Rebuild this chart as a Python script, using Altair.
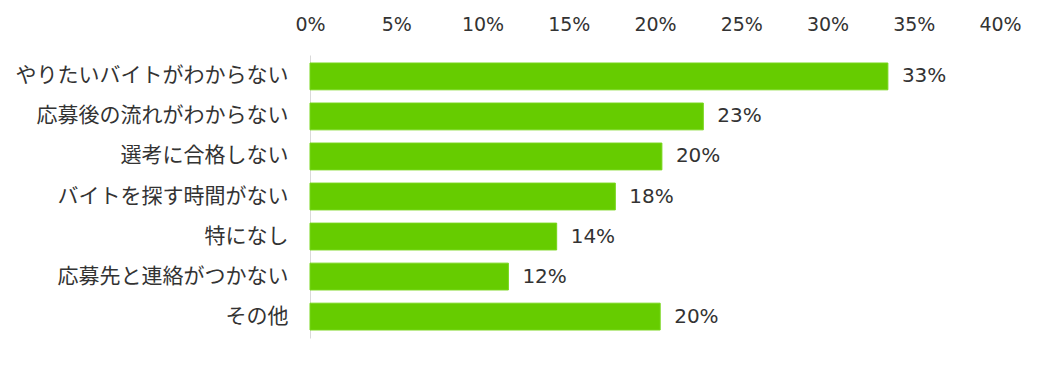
import altair as alt
import pandas as pd

categories = [
    "やりたいバイトがわからない",
    "応募後の流れがわからない",
    "選考に合格しない",
    "バイトを探す時間がない",
    "特になし",
    "応募先と連絡がつかない",
    "その他",
]
values = [33.5, 22.8, 20.4, 17.7, 14.3, 11.5, 20.3]
labels = ["33%", "23%", "20%", "18%", "14%", "12%", "20%"]
tick_values = [0, 5, 10, 15, 20, 25, 30, 35, 40]

df = pd.DataFrame({"cat": categories, "val": values, "lab": labels})

JP_FONT = "Noto Sans CJK JP"
NUM_FONT = "DejaVu Sans"
TEXT = "#333333"

x = alt.X(
    "val:Q",
    scale=alt.Scale(domain=[0, 40], nice=False, zero=True),
    axis=alt.Axis(
        orient="top", values=tick_values, labelExpr="datum.value + '%'",
        domain=False, ticks=False, grid=False, title=None,
        labelFontSize=19, labelFont=NUM_FONT, labelColor=TEXT,
        labelBaseline="middle", labelPadding=31,
        labelFlush=False, labelOverlap=False, labelAlign="center",
    ),
)
y = alt.Y(
    "cat:N",
    sort=categories,
    scale=alt.Scale(paddingInner=0.33, paddingOuter=0.2),
    axis=alt.Axis(
        title=None, ticks=False, grid=False, domain=True, domainColor="#d9d9d9",
        domainWidth=1, labelFontSize=21, labelFont=JP_FONT, labelColor=TEXT,
        labelPadding=22, labelLimit=400,
    ),
)

bars = alt.Chart(df).mark_bar(color="#66CC00", stroke="#77d61a", strokeWidth=1).encode(x=x, y=y)
text = alt.Chart(df).mark_text(
    align="left", baseline="middle", dx=14, fontSize=20, font=NUM_FONT, color=TEXT
).encode(x="val:Q", y=alt.Y("cat:N", sort=categories), text="lab:N")

chart = (
    alt.layer(bars, text)
    .properties(
        width=690, height=283,
        autosize=alt.AutoSizeParams(type="none"),
        padding={"left": 302, "top": 47, "right": 37, "bottom": 10},
    )
    .configure_view(strokeWidth=0, stroke="transparent")
)

chart.save("out.html", embed_options={"renderer": "svg", "actions": False})
